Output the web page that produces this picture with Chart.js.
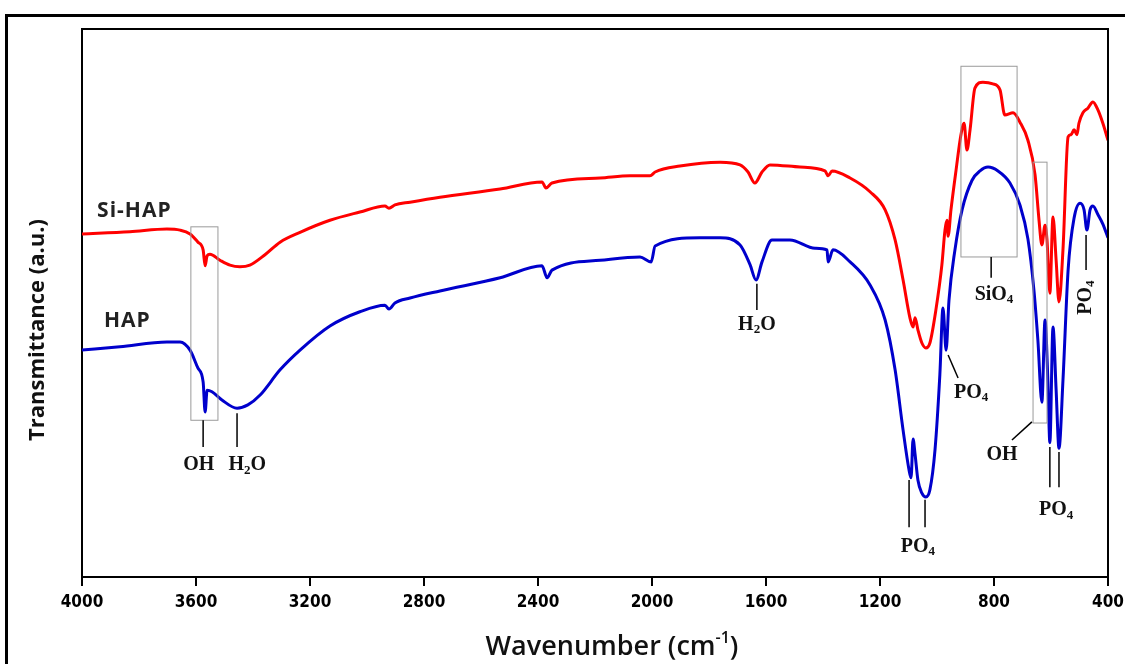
<!DOCTYPE html>
<html>
<head>
<meta charset="utf-8">
<script src="https://cdn.jsdelivr.net/npm/chart.js@4/dist/chart.umd.min.js"></script>
<style>
    html, body { margin: 0; padding: 0; background: #fff; overflow: hidden; }
    #wrap { position: relative; width: 1125px; height: 664px; }
    #frame {
        position: absolute; left: 5px; top: 14px; width: 1200px; height: 700px;
        border-left: 3px solid #000; border-top: 3px solid #000;
    }
    canvas { position: absolute; left: 0; top: 0; }
</style>
</head>
<body>
<div id="wrap">
    <div id="frame"></div>
    <canvas id="ftirChart" width="1125" height="664"></canvas>
</div>
<script>
// ==================== Data ====================
const xTicks = [4000, 3600, 3200, 2800, 2400, 2000, 1600, 1200, 800, 400];

// Si-HAP (red)
const siHapWave = [4000, 3832, 3702, 3656, 3621, 3593, 3575, 3568, 3561, 3551, 3516, 3481, 3446, 3411, 3358, 3305,
    3235, 3130, 3025, 2937, 2923, 2902, 2849, 2744, 2533, 2386, 2372, 2351, 2182, 2077, 2007, 1989, 1902, 1761,
    1691, 1663, 1639, 1614, 1586, 1481, 1393, 1382, 1368, 1305, 1235, 1182, 1147, 1119, 1095, 1084, 1077, 1067,
    1053, 1039, 1025, 1004, 983, 972, 965, 961, 951, 933, 916, 905, 895, 884, 867, 839, 804, 779, 762, 733, 709,
    681, 656, 642, 632, 621, 614, 604, 593, 582, 572, 558, 540, 530, 519, 509, 502, 488, 470, 453, 435, 418, 400];
const siHapT = [62.6, 63.0, 63.5, 63.3, 62.6, 61.1, 59.7, 56.8, 58.6, 58.9, 57.8, 56.9, 56.6, 56.9, 58.8, 61.1,
    62.9, 65.1, 66.6, 67.7, 67.3, 67.9, 68.4, 69.3, 70.8, 72.1, 71.0, 71.9, 72.8, 73.2, 73.2, 73.9, 75.0, 75.7,
    75.2, 73.9, 71.9, 73.9, 75.2, 74.8, 74.1, 73.2, 74.1, 72.8, 70.3, 67.0, 61.5, 54.2, 47.3, 45.6, 47.3, 45.1,
    42.7, 41.8, 42.7, 48.7, 56.9, 63.3, 65.1, 62.2, 67.0, 74.3, 80.7, 82.8, 77.9, 81.6, 89.2, 90.3, 90.0, 88.9,
    84.3, 84.7, 83.0, 79.7, 73.4, 65.1, 60.6, 64.2, 61.5, 51.8, 65.7, 57.8, 50.2, 59.7, 80.3, 80.7, 81.6, 80.7,
    82.8, 84.7, 85.6, 86.7, 85.2, 82.8, 79.7];

// HAP (blue)
const hapWave = [4000, 3867, 3702, 3656, 3621, 3593, 3575, 3568, 3561, 3544, 3509, 3456, 3418, 3375, 3305, 3235,
    3130, 3025, 2937, 2923, 2902, 2849, 2744, 2533, 2386, 2368, 2351, 2182, 2042, 2003, 1989, 1832, 1761, 1691,
    1656, 1635, 1614, 1579, 1516, 1428, 1386, 1382, 1365, 1305, 1235, 1182, 1147, 1119, 1098, 1091, 1084, 1077,
    1067, 1053, 1039, 1025, 1007, 990, 979, 968, 958, 937, 912, 877, 849, 821, 786, 744, 709, 681, 660, 646, 632,
    621, 611, 604, 593, 582, 572, 558, 540, 519, 498, 484, 474, 463, 453, 435, 418, 400];
const hapT = [41.4, 42.0, 42.9, 42.9, 41.4, 38.1, 35.6, 30.1, 34.1, 33.8, 32.3, 30.8, 31.4, 33.2, 37.8, 41.4,
    45.8, 48.4, 49.6, 48.9, 50.0, 50.9, 52.2, 54.6, 56.8, 54.6, 56.0, 57.8, 58.4, 57.5, 60.4, 61.9, 61.9, 60.6,
    57.0, 54.2, 57.5, 61.5, 61.5, 60.0, 59.7, 57.5, 59.7, 57.5, 53.3, 46.9, 37.8, 26.8, 19.5, 18.1, 25.2, 22.4,
    17.7, 15.3, 14.6, 15.9, 23.2, 36.9, 49.1, 41.4, 50.5, 59.7, 67.0, 72.4, 74.1, 74.8, 74.1, 71.9, 67.9, 61.7,
    52.4, 43.2, 31.9, 46.9, 35.9, 24.5, 45.6, 34.1, 23.5, 35.9, 56.0, 65.5, 68.2, 67.0, 63.3, 67.0, 67.7, 66.1,
    64.4, 61.9];

// ==================== Annotations (wavenumber, transmittance units) ====================
const bandBoxes = [
    { w1: 3618, w2: 3523, t1: 63.9, t2: 28.6 },
    { w1: 916, w2: 719, t1: 93.2, t2: 58.4 },
    { w1: 663, w2: 614, t1: 75.7, t2: 28.1 }
];
const bandLines = [
    [3575, 28.6, 3575, 23.7], [3456, 29.9, 3456, 23.7],
    [1632, 53.5, 1632, 48.7],
    [1098, 17.7, 1098, 9.1], [1042, 14.1, 1042, 9.1],
    [961, 40.5, 926, 36.3],
    [810, 58.4, 810, 54.6],
    [667, 28.3, 737, 25.0],
    [604, 23.7, 604, 16.4], [572, 22.8, 572, 16.4],
    [477, 62.4, 477, 56.0]
];
const bandLabels = [
    { text: 'OH', w: 3590, t: 20.4 },
    { text: 'H_2O', w: 3420, t: 20.4 },
    { text: 'H_2O', w: 1632, t: 46.0 },
    { text: 'PO_4', w: 1067, t: 5.5 },
    { text: 'PO_4', w: 880, t: 33.6 },
    { text: 'SiO_4', w: 800, t: 51.5 },
    { text: 'OH', w: 772, t: 22.3 },
    { text: 'PO_4', w: 582, t: 12.2 },
    { text: 'PO_4', w: 477, t: 51.0, rotate: true }
];
const seriesLabels = [
    { text: 'Si-HAP', w: 3947, t: 66.8 },
    { text: 'HAP', w: 3923, t: 46.7 }
];

// ==================== Helpers ====================
function toPoints(xs, ys) {
    return xs.map((x, i) => ({ x: x, y: ys[i] }));
}

// draws "H_2O" style text, char after "_" is subscript
function drawChem(ctx, str, cx, cy) {
    const big = 'bold 20px "Liberation Serif", "DejaVu Serif", serif';
    const small = 'bold 13px "Liberation Serif", "DejaVu Serif", serif';
    const parts = [];
    for (let i = 0; i < str.length; i++) {
        if (str[i] === '_') { parts.push({ s: str[i + 1], sub: true }); i++; }
        else parts.push({ s: str[i], sub: false });
    }
    let total = 0;
    parts.forEach(p => { ctx.font = p.sub ? small : big; p.w = ctx.measureText(p.s).width; total += p.w; });
    let x = cx - total / 2;
    ctx.textAlign = 'left';
    ctx.textBaseline = 'middle';
    parts.forEach(p => {
        ctx.font = p.sub ? small : big;
        ctx.fillText(p.s, x, p.sub ? cy + 5 : cy);
        x += p.w;
    });
}

// ==================== Annotation plugin ====================
const bandPlugin = {
    id: 'bands',
    afterDatasetsDraw(chart) {
        const ctx = chart.ctx;
        const xs = chart.scales.x, ys = chart.scales.y;
        const area = chart.chartArea;
        ctx.save();

        // top and right border of the plot box
        ctx.strokeStyle = '#000';
        ctx.lineWidth = 2;
        ctx.beginPath();
        ctx.moveTo(area.left, area.top);
        ctx.lineTo(area.right, area.top);
        ctx.lineTo(area.right, area.bottom);
        ctx.stroke();

        ctx.strokeStyle = '#9a9a9a';
        ctx.lineWidth = 1;
        bandBoxes.forEach(b => {
            const x1 = xs.getPixelForValue(b.w1), x2 = xs.getPixelForValue(b.w2);
            const y1 = ys.getPixelForValue(b.t1), y2 = ys.getPixelForValue(b.t2);
            ctx.strokeRect(x1, y1, x2 - x1, y2 - y1);
        });

        ctx.strokeStyle = '#000';
        ctx.lineWidth = 1.5;
        bandLines.forEach(l => {
            ctx.beginPath();
            ctx.moveTo(xs.getPixelForValue(l[0]), ys.getPixelForValue(l[1]));
            ctx.lineTo(xs.getPixelForValue(l[2]), ys.getPixelForValue(l[3]));
            ctx.stroke();
        });

        ctx.fillStyle = '#111';
        bandLabels.forEach(lb => {
            const x = xs.getPixelForValue(lb.w), y = ys.getPixelForValue(lb.t);
            if (lb.rotate) {
                ctx.save();
                ctx.translate(x, y);
                ctx.rotate(-Math.PI / 2);
                drawChem(ctx, lb.text, 0, 0);
                ctx.restore();
            } else {
                drawChem(ctx, lb.text, x, y);
            }
        });

        // series names
        ctx.font = 'bold 21px "Open Sans", "Noto Sans", sans-serif';
        ctx.letterSpacing = '1px';
        ctx.textAlign = 'left';
        ctx.textBaseline = 'middle';
        ctx.fillStyle = '#222';
        seriesLabels.forEach(s => {
            ctx.fillText(s.text, xs.getPixelForValue(s.w), ys.getPixelForValue(s.t));
        });
        ctx.letterSpacing = '0px';

        // axis titles
        ctx.fillStyle = '#111';
        ctx.save();
        ctx.translate(38, 330);
        ctx.rotate(-Math.PI / 2);
        ctx.textAlign = 'center';
        ctx.font = 'bold 22px "Open Sans", "Noto Sans", sans-serif';
        ctx.fillText('Transmittance (a.u.)', 0, 0);
        ctx.restore();

        const tMain = '600 27px "Open Sans", "Noto Sans", sans-serif';
        const tSup = '600 16px "Open Sans", "Noto Sans", sans-serif';
        const pieces = [['Wavenumber (cm', tMain, 0], ['-1', tSup, -9], [')', tMain, 0]];
        let total = 0;
        pieces.forEach(p => { ctx.font = p[1]; p.push(ctx.measureText(p[0]).width); total += p[3]; });
        let tx = 612 - total / 2;
        ctx.textAlign = 'left';
        pieces.forEach(p => {
            ctx.font = p[1];
            ctx.fillText(p[0], tx, 647 + p[2]);
            tx += p[3];
        });
        ctx.restore();
    }
};

// ==================== Chart ====================
const ctx = document.getElementById('ftirChart').getContext('2d');
const ftirChart = new Chart(ctx, {
    type: 'line',
    data: {
        datasets: [{
            label: 'Si-HAP',
            data: toPoints(siHapWave, siHapT),
            borderColor: '#ff0000',
            borderWidth: 3,
            pointRadius: 0,
            cubicInterpolationMode: 'monotone',
            fill: false
        }, {
            label: 'HAP',
            data: toPoints(hapWave, hapT),
            borderColor: '#0000cc',
            borderWidth: 3,
            pointRadius: 0,
            cubicInterpolationMode: 'monotone',
            fill: false
        }]
    },
    options: {
        responsive: false,
        animation: false,
        layout: { padding: { top: 29, right: 17, left: 0, bottom: 0 } },
        plugins: {
            legend: { display: false },
            tooltip: { enabled: false }
        },
        scales: {
            x: {
                type: 'linear',
                reverse: true,
                min: 400,
                max: 4000,
                afterBuildTicks: (scale) => { scale.ticks = xTicks.map(v => ({ value: v })); },
                afterFit: (scale) => { scale.height = 87; scale.paddingLeft = 0; scale.paddingRight = 0; },
                grid: { display: true, drawOnChartArea: false, drawTicks: true, tickLength: 9, color: '#000', lineWidth: 2 },
                border: { display: true, color: '#000', width: 2 },
                ticks: {
                    color: '#000',
                    padding: 6,
                    maxRotation: 0,
                    autoSkip: false,
                    callback: (v) => String(v),
                    font: { family: '"DejaVu Sans Condensed", "Liberation Sans Narrow", "Roboto", sans-serif', size: 17, weight: 'bold' }
                },
                title: { display: false }
            },
            y: {
                min: 0,
                max: 100,
                afterFit: (scale) => { scale.width = 82; },
                grid: { display: false },
                border: { display: true, color: '#000', width: 2 },
                ticks: { display: false },
                title: { display: false }
            }
        }
    },
    plugins: [bandPlugin]
});
</script>
</body>
</html>
